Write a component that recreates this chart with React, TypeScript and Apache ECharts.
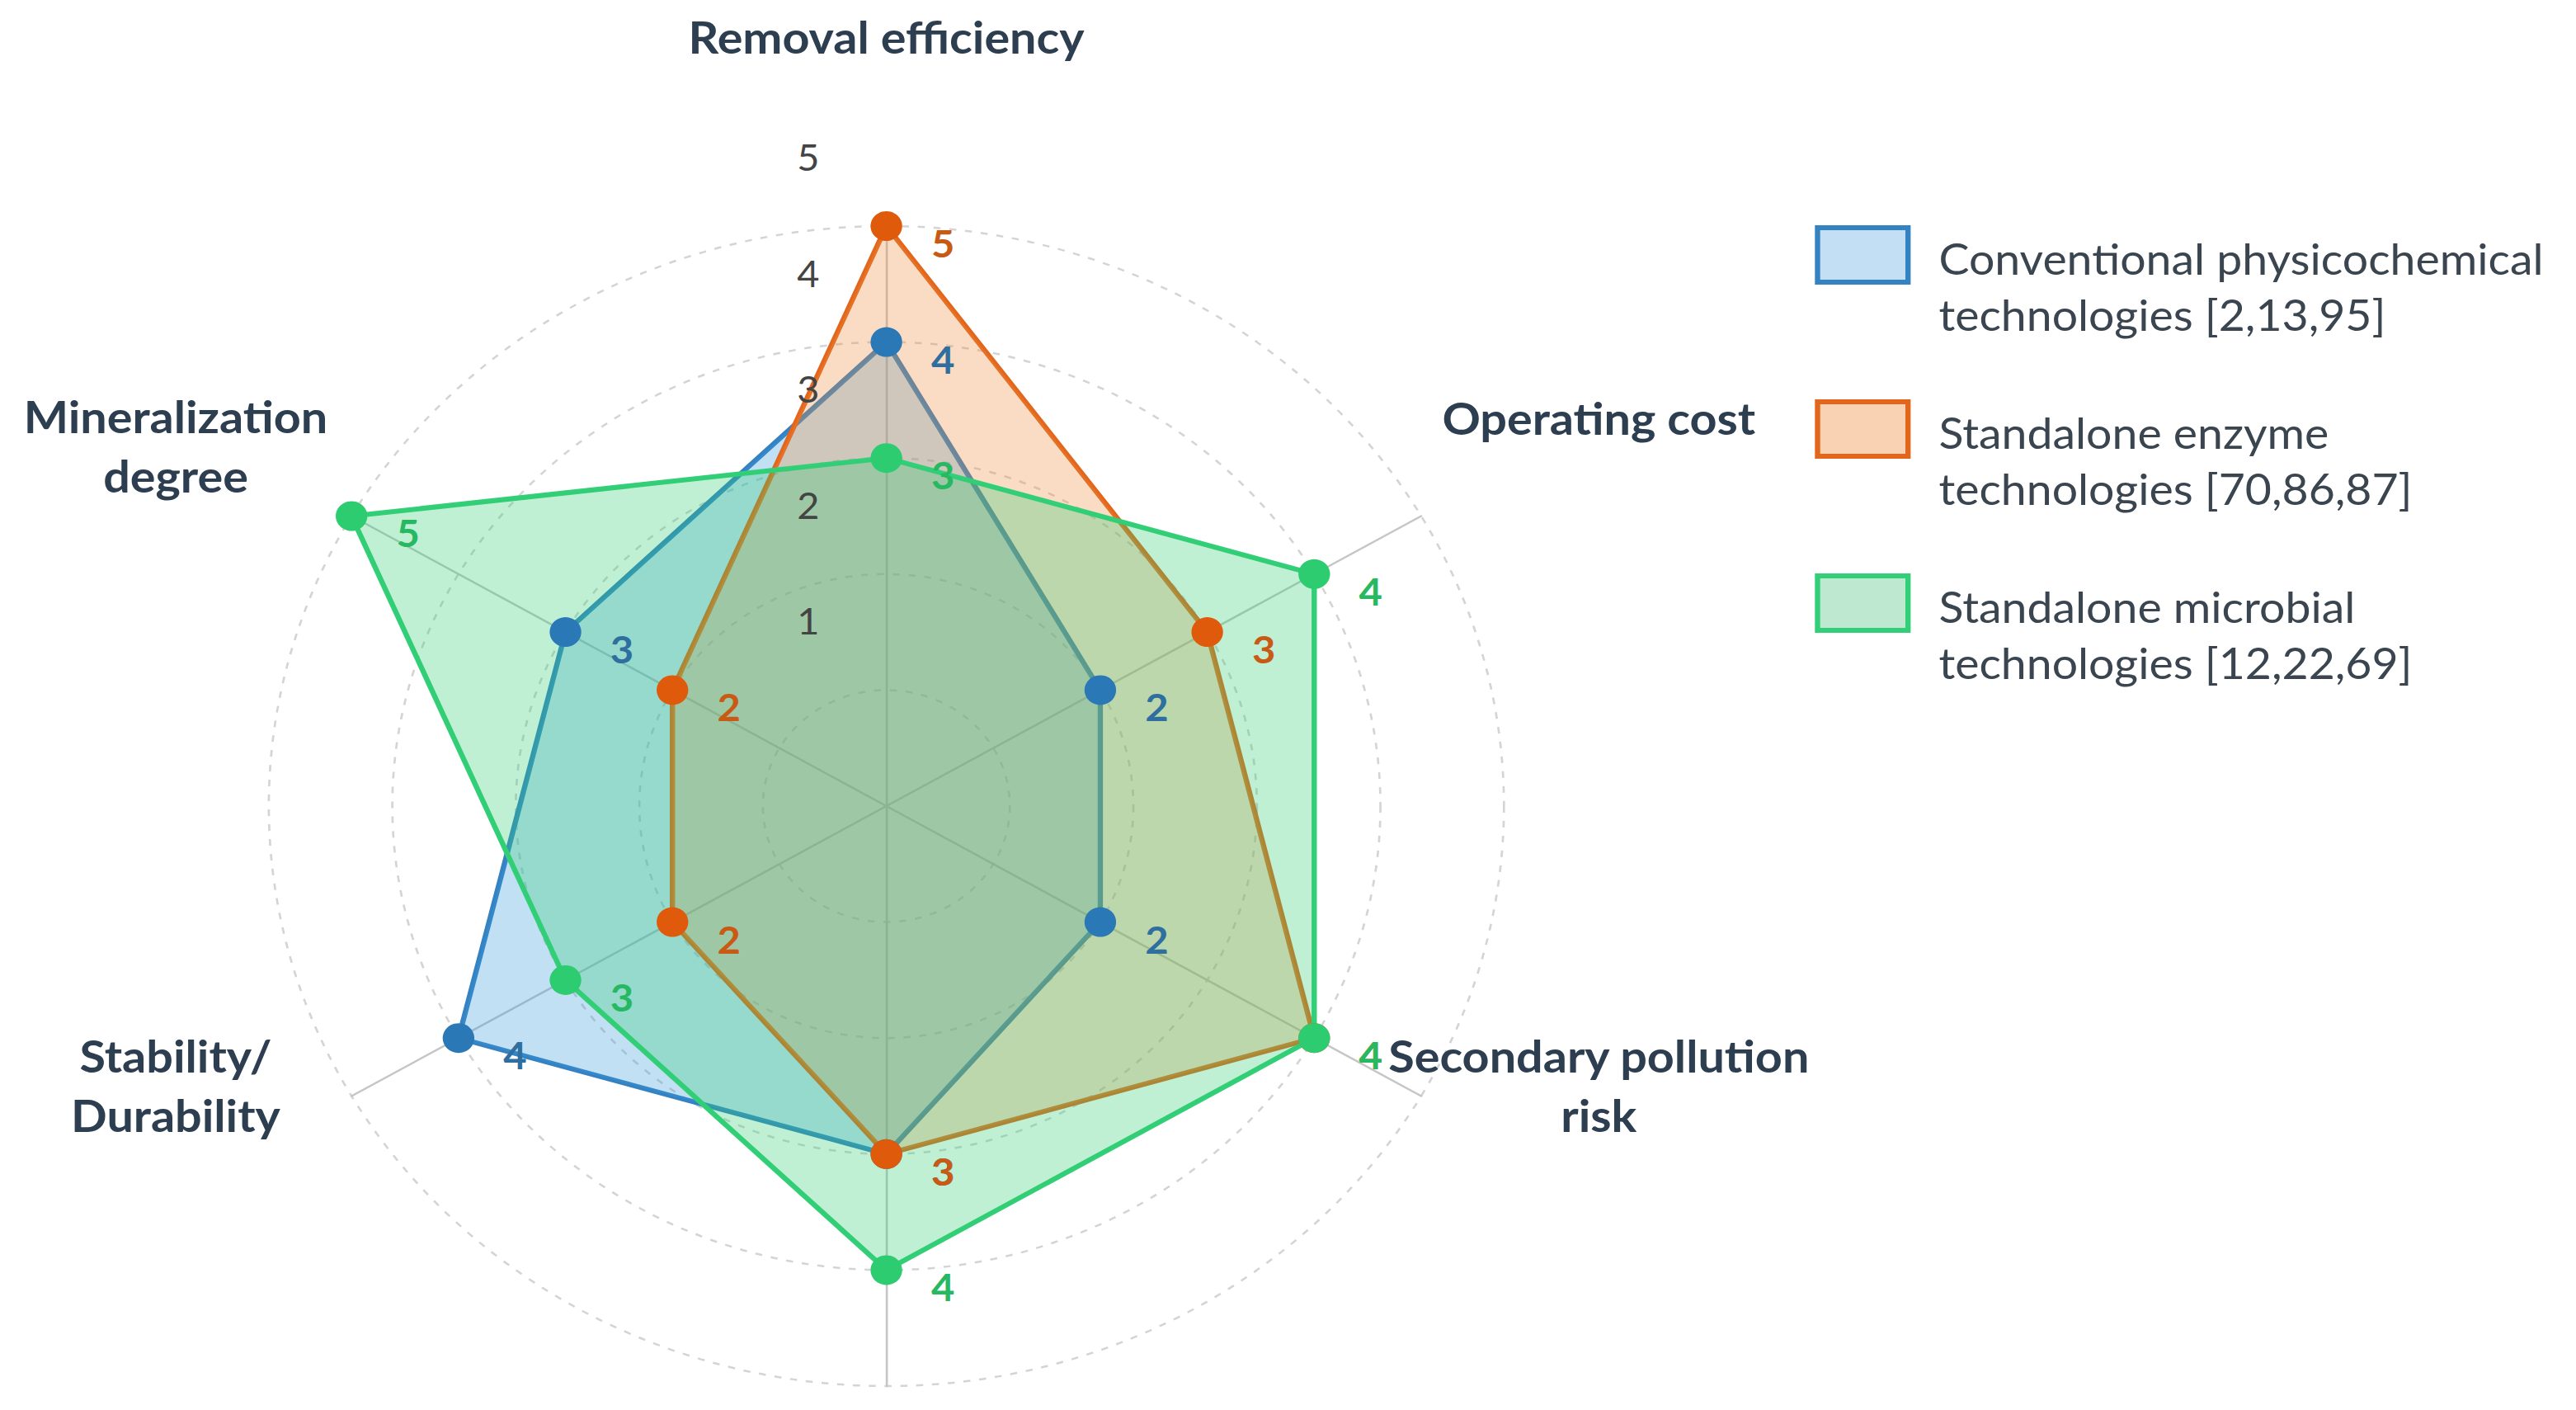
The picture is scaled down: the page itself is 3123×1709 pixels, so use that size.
import React, { useEffect, useRef } from 'react';
import * as echarts from 'echarts';

// Page geometry: the chart is laid out in a narrower box and widened horizontally.
const PAGE_W = 3123;
const PAGE_H = 1709;
const STRETCH = 1.065;
const CHART_W = PAGE_W / STRETCH;

const FONT = 'Lato';

// Radar geometry (px, in the unstretched box)
const CX = 1009;
const CY = 977;
const RADIUS = 703;
const MAX_SCORE = 5;

// Indicators in ECharts order (counter-clockwise from the top)
const indicatorNames = [
  'Removal efficiency',
  'Mineralization degree',
  'Stability/Durability',
  '',
  'Secondary pollution risk',
  'Operating cost',
];

const tickValues = [1, 2, 3, 4, 5];

const seriesNames = [
  'Conventional physicochemical\ntechnologies [2,13,95]',
  'Standalone enzyme\ntechnologies [70,86,87]',
  'Standalone microbial\ntechnologies [12,22,69]',
];

const conventionalScores = [4, 3, 4, 3, 2, 2];
const enzymeScores = [5, 2, 2, 3, 4, 3];
const microbialScores = [3, 5, 3, 4, 4, 4];

const lineColors = ['#3582c2', '#e2661c', '#33cf78'];
const dotColors = ['#2a78b5', '#e05a0c', '#2ecc71'];
const areaColors = ['#3498db', '#ee8a3c', '#2ecc71'];
const labelColors = ['#2f6f9f', '#c95a14', '#27b862'];
const swatchFills = ['#c3dff4', '#f9d2b3', '#bfe8d1'];

const radiusOf = (v: number) => (v / MAX_SCORE) * RADIUS;

// Axis titles, drawn as centred text blocks around the radar
const axisTitles = [
  { text: 'Removal efficiency', x: CX, y: 44 },
  { text: 'Operating cost', x: 1820, y: 506 },
  { text: 'Mineralization\ndegree', x: 200, y: 540 },
  { text: 'Stability/\nDurability', x: 200, y: 1315 },
  { text: 'Secondary pollution\nrisk', x: 1820, y: 1315 },
];

// Key box on the right
const KEY_LEFT = 2069;
const KEY_TOP = 276;
const KEY_ROW = 211;
const KEY_W = 103;
const KEY_H = 66;
const KEY_TEXT_X = 2207;

function buildOption(): echarts.EChartsOption {
  const scoreSets = [conventionalScores, enzymeScores, microbialScores];

  const graphic: any[] = [];
  tickValues.forEach((v) => {
    graphic.push({
      type: 'text',
      x: CX - 89,
      y: CY - radiusOf(v) - 84,
      z: 10,
      style: {
        text: String(v),
        fontFamily: FONT,
        fontSize: 44,
        fill: '#444',
        align: 'center',
        verticalAlign: 'middle',
        textAlign: 'center',
        textVerticalAlign: 'middle',
      },
    });
  });
  axisTitles.forEach((t) => {
    graphic.push({
      type: 'text',
      x: t.x,
      y: t.y,
      z: 10,
      style: {
        text: t.text,
        fontFamily: FONT,
        fontSize: 54,
        fontWeight: 'bold',
        lineHeight: 72,
        fill: '#2c3e50',
        align: 'center',
        verticalAlign: 'middle',
        textAlign: 'center',
        textVerticalAlign: 'middle',
      },
    });
  });
  seriesNames.forEach((name, i) => {
    const top = KEY_TOP + i * KEY_ROW;
    graphic.push({
      type: 'rect',
      z: 10,
      shape: { x: KEY_LEFT, y: top, width: KEY_W, height: KEY_H },
      style: { fill: swatchFills[i], stroke: lineColors[i], lineWidth: 6 },
    });
    graphic.push({
      type: 'text',
      x: KEY_TEXT_X,
      y: top + KEY_H / 2 + 4 - 34,
      z: 10,
      style: {
        text: name,
        fontFamily: FONT,
        fontSize: 52,
        lineHeight: 68,
        fill: '#3a4550',
        align: 'left',
        verticalAlign: 'top',
        textAlign: 'left',
        textVerticalAlign: 'top',
      },
    });
  });

  return {
    animation: false,
    backgroundColor: '#ffffff',
    textStyle: { fontFamily: FONT },
    radar: {
      center: [CX, CY],
      radius: RADIUS,
      startAngle: 90,
      shape: 'circle',
      splitNumber: 5,
      indicator: indicatorNames.map((name) => ({ name, min: 0, max: MAX_SCORE })),
      axisName: { show: false },
      axisLine: { lineStyle: { color: '#c6c6c6', width: 2.5 } },
      axisTick: { show: false },
      axisLabel: { show: false },
      splitArea: { show: false },
      splitLine: { lineStyle: { color: '#d4d4d4', width: 2.5, type: [8, 10] } },
    },
    graphic,
    series: [
      {
        type: 'radar',
        symbol: 'circle',
        symbolSize: 36,
        data: scoreSets.map((values, i) => ({
          name: seriesNames[i],
          value: values,
          itemStyle: { color: dotColors[i] },
          lineStyle: { color: lineColors[i], width: 6 },
          areaStyle: { color: areaColors[i], opacity: 0.3 },
          label: {
            show: true,
            position: 'right',
            distance: 33,
            offset: [0, 20],
            formatter: '{c}',
            fontFamily: FONT,
            fontSize: 46,
            fontWeight: 'bold',
            color: labelColors[i],
          },
        })),
      },
    ],
  } as echarts.EChartsOption;
}

export default function App() {
  const ref = useRef<HTMLDivElement>(null);

  useEffect(() => {
    if (!ref.current) return;
    const chart = echarts.init(ref.current, null, { renderer: 'svg' });
    chart.setOption(buildOption());
    return () => chart.dispose();
  }, []);

  return (
    <div
      ref={ref}
      style={{
        position: 'fixed',
        left: 0,
        top: 0,
        width: CHART_W,
        height: PAGE_H,
        overflow: 'hidden',
        background: '#ffffff',
        transform: `scaleX(${STRETCH})`,
        transformOrigin: '0 0',
      }}
    />
  );
}
